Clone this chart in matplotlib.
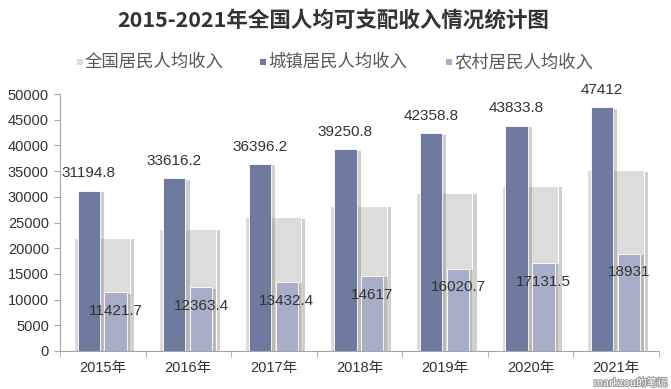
import matplotlib
matplotlib.use('Agg')
import matplotlib.pyplot as plt
import matplotlib.patheffects as pe
import numpy as np

# Data
years = ['2015年', '2016年', '2017年', '2018年', '2019年', '2020年', '2021年']
national = [21966, 23821, 25974, 28228, 30733, 32189, 35128]
urban = [31194.8, 33616.2, 36396.2, 39250.8, 42358.8, 43833.8, 47412]
rural = [11421.7, 12363.4, 13432.4, 14617, 16020.7, 17131.5, 18931]
urban_labels = ['31194.8', '33616.2', '36396.2', '39250.8', '42358.8', '43833.8', '47412']
rural_labels = ['11421.7', '12363.4', '13432.4', '14617', '16020.7', '17131.5', '18931']

c_nat = '#dcdcdc'
c_urb = '#6f7a9f'
c_rur = '#a9aec8'

num_font = ['Liberation Sans', 'Noto Sans CJK SC']
cjk_font = ['Noto Sans CJK SC', 'DejaVu Sans']

fig = plt.figure(figsize=(6.71, 3.89), dpi=100)
ax = fig.add_axes([60 / 671, 1 - 351 / 389, 599 / 671, 257 / 389])

x = np.arange(len(years))
shadow = [pe.SimplePatchShadow(offset=(3, -1), shadow_rgbFace='#777777', alpha=0.35), pe.Normal()]

b1 = ax.bar(x - 0.01, national, width=0.66, color=c_nat, edgecolor='white', linewidth=0.8, zorder=1)
b2 = ax.bar(x - 0.165, urban, width=0.26, color=c_urb, edgecolor='white', linewidth=0.6, zorder=2)
b3 = ax.bar(x + 0.15, rural, width=0.26, color=c_rur, edgecolor='white', linewidth=0.6, zorder=3)
for bars in (b1, b2, b3):
    for p in bars:
        p.set_path_effects(shadow)

# data labels
for i in range(len(years)):
    ax.annotate(urban_labels[i], (x[i] - 0.165, urban[i]), xytext=(0, 12.5), textcoords='offset points',
                ha='center', va='center', fontsize=11, color='#333333', family=num_font, zorder=5)
    ax.annotate(rural_labels[i], (x[i] + 0.15, rural[i]), xytext=(0, -13.5), textcoords='offset points',
                ha='center', va='center', fontsize=11, color='#333333', family=num_font, zorder=5)

ax.set_xlim(-0.5, 6.5)
ax.set_ylim(0, 50000)
ax.set_yticks(np.arange(0, 50001, 5000))
ax.set_yticklabels([str(v) for v in range(0, 50001, 5000)], family=num_font, fontsize=10.5, color='#333333')
ax.set_xticks(x)
ax.set_xticklabels(years, family=num_font, fontsize=10.5, color='#333333')
ax.set_xticks(np.arange(-0.5, 7, 1), minor=True)
ax.tick_params(axis='x', which='major', length=0, pad=7)
ax.tick_params(axis='x', which='minor', length=4, color='#a6a6a6', direction='out')
ax.tick_params(axis='y', length=4, color='#a6a6a6', pad=4)
for s in ['top', 'right']:
    ax.spines[s].set_visible(False)
for s in ['left', 'bottom']:
    ax.spines[s].set_color('#a6a6a6')

# title
fig.text(0.497, 1 - 20 / 389, '2015-2021年全国人均可支配收入情况统计图', ha='center', va='center',
         fontsize=15.5, fontweight='bold', color='#333333', family=cjk_font)

# legend
leg_items = [('全国居民人均收入', c_nat), ('城镇居民人均收入', c_urb), ('农村居民人均收入', c_rur)]
leg_x = [77, 260, 446]
for (name, col), lx in zip(leg_items, leg_x):
    fig.patches.append(plt.Rectangle((lx / 671, 1 - 65 / 389), 6 / 671, 6 / 389, transform=fig.transFigure,
                                     facecolor=col, edgecolor='none'))
    fig.text((lx + 8) / 671, 1 - 62 / 389, name, ha='left', va='center', fontsize=12.5,
             color='#595959', family=cjk_font)

# watermark
fig.text(0.995, 1 - 383 / 389, 'markzou的笔记', ha='right', va='center', fontsize=7.5, color='white',
         family=cjk_font, path_effects=[pe.withStroke(linewidth=1.5, foreground='#9a9a9a')], zorder=10)

fig.savefig('out.png', dpi=100)
